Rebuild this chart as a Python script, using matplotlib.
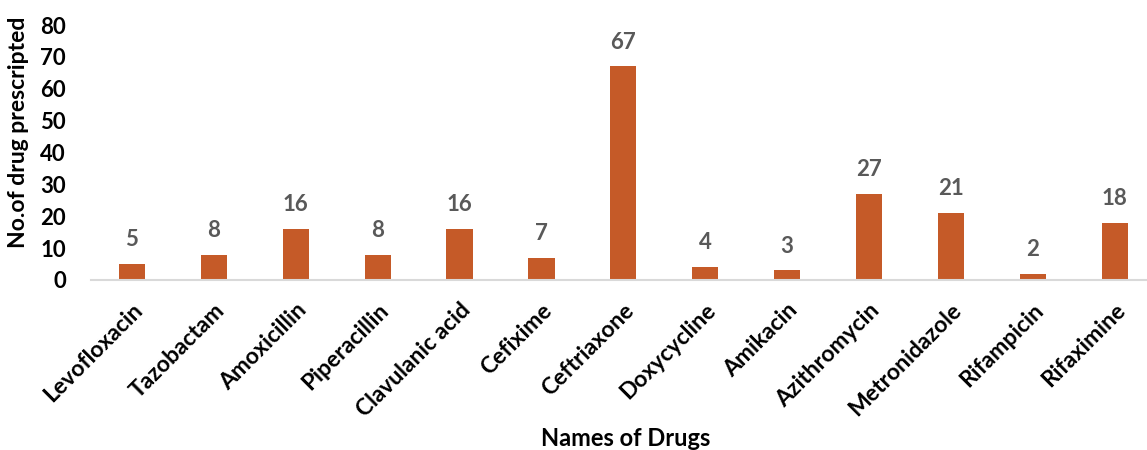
import matplotlib
matplotlib.use("Agg")
import matplotlib.pyplot as plt

drugs = ["Levofloxacin", "Tazobactam", "Amoxicillin", "Piperacillin", "Clavulanic acid",
         "Cefixime", "Ceftriaxone", "Doxycycline", "Amikacin", "Azithromycin",
         "Metronidazole", "Rifampicin", "Rifaximine"]
counts = [5, 8, 16, 8, 16, 7, 67, 4, 3, 27, 21, 2, 18]
yticks = [0, 10, 20, 30, 40, 50, 60, 70, 80]

plt.rcParams['font.family'] = ['Lato', 'DejaVu Sans']
plt.rcParams['font.weight'] = 'bold'

spacing = 81.9
fig = plt.figure(figsize=(11.47, 4.5), dpi=100)
ax = fig.add_axes([91/1147, 170/450, (1147 - 91)/1147, 255/450])

x = list(range(len(drugs)))
ax.bar(x, counts, width=0.32, color="#C55A28", zorder=2)
for xi, v in zip(x, counts):
    ax.annotate(str(v), (xi, v), xytext=(0, 10), textcoords="offset points",
                ha="center", va="bottom", fontsize=16, fontweight="bold", color="#595959")

ax.set_ylim(0, 80)
ax.set_yticks(yticks)
ax.set_xlim(-0.5, -0.5 + (1147 - 91)/spacing)
ax.set_xticks(x)
ax.set_xticklabels(drugs, rotation=45, ha="right", rotation_mode="anchor",
                   fontsize=16.5, fontweight="bold", color="black")
ax.tick_params(axis="x", length=0, pad=14)
ax.tick_params(axis="y", length=0, pad=18, labelsize=16, labelcolor="black")
for lab in ax.get_yticklabels():
    lab.set_fontweight("bold")

for s in ["top", "right", "left"]:
    ax.spines[s].set_visible(False)
ax.spines["bottom"].set_color("#d9d9d9")
ax.spines["bottom"].set_linewidth(1.5)

ax.set_ylabel("No.of drug prescripted", fontsize=16.5, fontweight="bold")
ax.yaxis.set_label_coords(-62 / (1147 - 91), 0.58)
fig.text(626/1147, 1 - 438/450, "Names of Drugs", ha="center", va="center",
         fontsize=17, fontweight="bold")

fig.savefig("out.png", dpi=100)
